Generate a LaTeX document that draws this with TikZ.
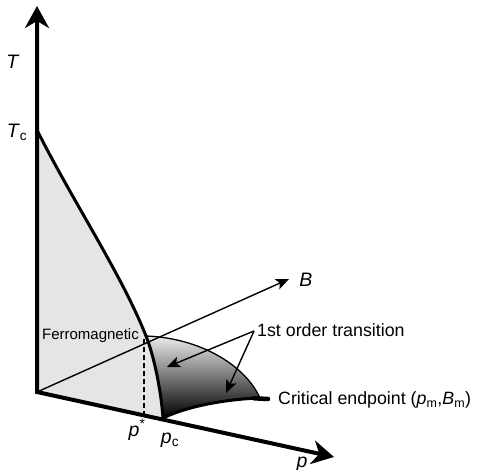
\documentclass[tikz,border=0pt]{standalone}
\usepackage{fontspec}
\setmainfont{Liberation Sans}
\usepackage{graphicx}
\usetikzlibrary{arrows.meta}
\begin{document}
\begin{tikzpicture}[x=1pt,y=-1pt,
  bigtip/.style={line width=4pt},
  thinarrow/.style={line width=1.4pt, -{Stealth[length=13pt,width=11pt,inset=3pt]}},
  lbl/.style={inner sep=0pt, font=\fontsize{19.5}{22}\selectfont},
  txt/.style={inner sep=0pt, font=\fontsize{17.8}{20}\selectfont, anchor=west}]
\useasboundingbox (0,0) rectangle (480,470);
\coordinate (O) at (37,392);
\coordinate (Ttip) at (37,6);
\coordinate (Tc) at (37,130);
\coordinate (ptip) at (334,457);
\coordinate (pc) at (163,418);
\coordinate (J) at (146,336);
\coordinate (Btip) at (289,279);
\coordinate (E) at (260,398);
\coordinate (E2) at (268,399);
\coordinate (ps) at (144,415);
\coordinate (pst) at (144,339);
\coordinate (a1) at (167,367);
\coordinate (a2) at (226,393);
% ferromagnetic region
\fill[gray!20] (O) -- (Tc) .. controls (72,200) and (122,275) .. (J)
  .. controls (154,356) and (161,390) .. (pc) -- cycle;
% first order surface
\shade[shading angle=-45, top color=gray!15, bottom color=black]
  (J) .. controls (154,356) and (161,390) .. (pc)
  .. controls (190,405) and (230,399) .. (E)
  .. controls (245,365) and (200,338) .. (J) -- cycle;
% B axis
\draw[thinarrow] (O) -- (Btip);
% dashed
\draw[line width=1.8pt, dash pattern=on 5pt off 3pt] (pst) -- (ps);
% ferro curve
\draw[line width=3pt] (Tc) .. controls (72,200) and (122,275) .. (J)
  .. controls (154,356) and (161,390) .. (pc);
\draw[line width=3pt] (pc) .. controls (190,405) and (230,399) .. (E);
\draw[line width=4.5pt, line cap=round] (254,398.3) -- (E2);
\draw[line width=1.3pt] (E) .. controls (245,365) and (200,338) .. (J);
% axes
\draw[bigtip, {Stealth[length=22pt,width=24pt,inset=7pt]}-{Stealth[length=22pt,width=24pt,inset=7pt]}] (Ttip) -- (O) -- (ptip);
% labels
\node[lbl] (Tl) at (13,62) {\textit{T}};
\node[lbl] (Tcl) at (17,132) {\textit{T}\textsubscript{c}};
\node[lbl] (Bl) at (306,280) {\textit{B}};
\node[lbl] (pl) at (302,464) {\textit{p}};
\node[lbl] (psl) at (137,430) {\textit{p}\textsuperscript{*}};
\node[lbl] (pcl) at (170,440) {\textit{p}\textsubscript{c}};
\node[font=\fontsize{15}{17}\selectfont, inner sep=0pt, anchor=east] (fm) at (139,336) {Ferromagnetic};
\node[txt] (fo) at (257,330) {1st order transition};
\node[txt] (ce) at (278,400) {Critical endpoint (\textit{p}\textsubscript{m},\textit{B}\textsubscript{m})};
\draw[thinarrow] ([xshift=-3pt,yshift=-1pt]fo.west) -- (a1);
\draw[thinarrow] ([xshift=-3pt,yshift=-1pt]fo.west) -- (a2);
\end{tikzpicture}
\end{document}
